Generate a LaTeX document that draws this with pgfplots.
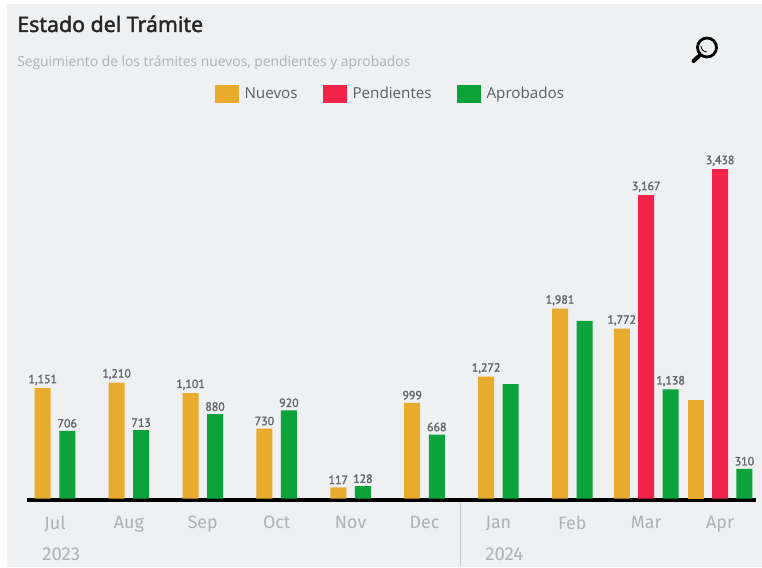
\documentclass[border=0pt]{standalone}
\usepackage{fontspec}
\setmainfont{Open Sans}
\newfontfamily\titlefont[FakeBold=1.8]{Noto Sans}
\newfontfamily\labfont[FakeBold=2]{PT Sans}
\newfontfamily\tickfont{Fira Sans}
\usepackage{pgfplots}
\pgfplotsset{compat=1.18}
\definecolor{panel}{HTML}{EEF0F2}
\definecolor{cnuevos}{HTML}{E9AB2D}
\definecolor{cpend}{HTML}{F1234A}
\definecolor{caprob}{HTML}{0CA33A}
\definecolor{ctick}{HTML}{AEB1B5}
\definecolor{clab}{HTML}{63666B}
\definecolor{cleg}{HTML}{5A5F68}
\begin{document}
\begin{tikzpicture}
\useasboundingbox (0,0) rectangle (571.5pt,425.25pt);
\begin{scope}[x=0.75pt,y=-0.75pt,yshift=425.25pt]
\fill[white] (0,0) rectangle (762,567);
\fill[panel] (7,4) rectangle (762,567);
\node[anchor=base west,inner sep=0pt,font=\titlefont\fontsize{16pt}{18pt}\selectfont,text=black!85] at (17,32) {Estado del Trámite};
\node[anchor=base west,inner sep=0pt,font=\fontsize{10.39pt}{12pt}\selectfont,text=ctick] at (17,66.5) {Seguimiento de los trámites nuevos, pendientes y aprobados};
\draw[black,line width=2.1pt] (707,47.5) circle (9.5);
\draw[black,line width=0.6pt] (701,46) arc (180:90:6);
\draw[black,line width=3pt,line cap=round] (699,56) -- (693.5,61);
\draw[ctick!70,line width=0.75pt] (460,503) -- (460,566);
\node[anchor=base west,inner sep=0pt,font=\tickfont\fontsize{14pt}{16pt}\selectfont,text=ctick] at (42,560) {2023};
\node[anchor=base west,inner sep=0pt,font=\tickfont\fontsize{14pt}{16pt}\selectfont,text=ctick] at (485,560) {2024};
\end{scope}
\begin{axis}[
  at={(20.25pt,50.625pt)}, anchor=south west,
  scale only axis, width=546.75pt, height=300pt,
  xmin=-0.379, xmax=9.486, ymin=-10.44, ymax=4165,
  axis x line=bottom, axis y line=none,
  axis line style={black,line width=3pt,-},
  xtick={0,...,9},
  xticklabels={Jul,Aug,Sep,Oct,Nov,Dec,Jan,Feb,Mar,Apr},
  major tick length=0pt,
  xticklabel style={font=\tickfont\fontsize{13.4pt}{15pt}\selectfont,text=ctick,yshift=-8.75pt},
  ybar, bar width=12pt, bar shift=0pt,
  clip=false,
  /pgf/number format/assume math mode=true,
  /pgf/number format/1000 sep={,},
  every axis plot/.append style={draw=none},
  nodes near coords style={font=\labfont\fontsize{8.9pt}{10pt}\selectfont,text=clab,inner sep=1.5pt,yshift=0.75pt},
  legend style={at={(0.4993,1.0)},anchor=center,yshift=4.1pt,draw=none,fill=none,
    legend columns=3,font=\fontsize{11.4pt}{13pt}\selectfont,text=cleg,inner sep=0pt,
    /tikz/every even column/.append style={column sep=17.2pt},
    /tikz/every odd column/.append style={column sep=2pt}},
  legend image code/.code={\fill[#1] (0pt,-6.5pt) rectangle (18pt,7pt);},
]
\addplot[fill=cnuevos,nodes near coords] coordinates {
  (-0.166,1151) (0.834,1210) (1.834,1101) (2.834,730) (3.834,117) (4.834,999) (5.834,1272) (6.834,1981) (7.67,1772)};
\addlegendentry{Nuevos}
\addplot[fill=cpend,nodes near coords] coordinates {(8,3167) (9,3438)};
\addlegendentry{Pendientes}
\addplot[fill=caprob,nodes near coords] coordinates {
  (0.166,706) (1.166,713) (2.166,880) (3.166,920) (4.166,128) (5.166,668) (8.33,1138) (9.33,310)};
\addlegendentry{Aprobados}
\addplot[fill=cnuevos,forget plot] coordinates {(8.67,1025)};
\addplot[fill=caprob,forget plot] coordinates {(6.166,1193) (7.166,1853)};
\end{axis}
\end{tikzpicture}
\end{document}
